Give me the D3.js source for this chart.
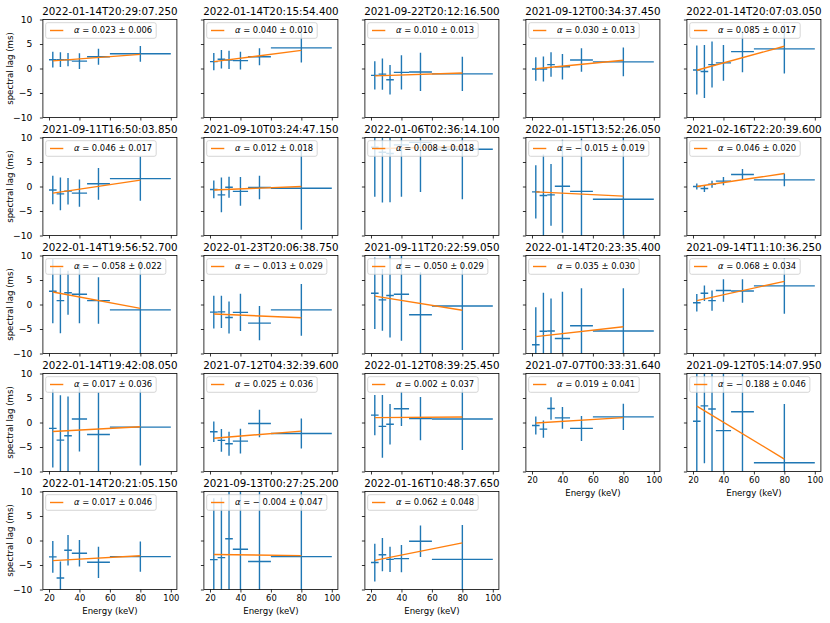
<!DOCTYPE html>
<html>
<head>
<meta charset="utf-8">
<script src="https://cdn.jsdelivr.net/npm/d3@7"></script>
<style>
  html, body { margin: 0; padding: 0; background: #fff; }
  svg { display: block; font-family: "DejaVu Sans", sans-serif; }
</style>
</head>
<body>
<svg id="chart" width="830" height="623"></svg>
<script>
// ---------------- DATA ----------------
const titles = [
  "2022-01-14T20:29:07.250", "2022-01-14T20:15:54.400", "2021-09-22T20:12:16.500", "2021-09-12T00:34:37.450", "2022-01-14T20:07:03.050",
  "2021-09-11T16:50:03.850", "2021-09-10T03:24:47.150", "2022-01-06T02:36:14.100", "2022-01-15T13:52:26.050", "2021-02-16T22:20:39.600",
  "2022-01-14T19:56:52.700", "2022-01-23T20:06:38.750", "2021-09-11T20:22:59.050", "2022-01-14T20:23:35.400", "2021-09-14T11:10:36.250",
  "2022-01-14T19:42:08.050", "2021-07-12T04:32:39.600", "2022-01-12T08:39:25.450", "2021-07-07T00:33:31.640", "2021-09-12T05:14:07.950",
  "2022-01-14T20:21:05.150", "2021-09-13T00:27:25.200", "2022-01-16T10:48:37.650"
];
const energyCenters = [22.5, 27.5, 32.5, 40, 52.5, 80];
const energyHalfWidths = [2.5, 2.5, 2.5, 5, 7.5, 20];
const alphas    = [0.023, 0.040, 0.010, 0.030, 0.085, 0.046, 0.012, 0.008, -0.015, 0.046, -0.058, -0.013, -0.050, 0.035, 0.068, 0.017, 0.025, 0.002, 0.019, -0.188, 0.017, -0.004, 0.062];
const alphaErrs = [0.006, 0.010, 0.013, 0.013, 0.017, 0.017, 0.018, 0.018, 0.019, 0.020, 0.022, 0.029, 0.029, 0.030, 0.034, 0.036, 0.036, 0.037, 0.041, 0.046, 0.046, 0.047, 0.048];
// fitted lag at the first energy centre (22.5 keV)
const fitStart  = [1.55, 1.4, -1.5, -0.05, -0.35, -1.35, -0.7, 7.7, -1.1, 0.0, 2.55, -1.95, 1.7, -6.55, 0.8, -1.85, -3.2, 1.0, -0.1, 3.35, -4.1, -2.85, -4.05];
const lags = [
  [1.8, 1.8, 1.8, 1.5, 2.4, 3.0],
  [1.4, 1.9, 1.75, 1.6, 2.4, 4.2],
  [-1.4, -1.15, -2.3, -0.8, -0.7, -1.1],
  [-0.1, -0.1, 0.8, 0.35, 1.75, 1.35],
  [-0.3, -0.6, 0.8, 1.15, 3.45, 4.0],
  [-0.7, -1.5, -0.95, -1.35, 0.55, 1.6],
  [-0.6, -1.7, -0.15, -1.0, -0.2, -0.35],
  [8.0, 7.0, 6.75, 8.5, 9.0, 7.6],
  [-1.1, -1.85, -1.7, 0.05, -1.0, -2.6],
  [0.0, -0.4, 0.45, 1.1, 2.45, 1.35],
  [2.7, 0.8, 2.4, 2.1, 0.8, -1.1],
  [-1.55, -1.5, -2.65, -1.6, -3.8, -1.1],
  [2.3, 0.95, 1.85, 2.1, -2.1, -0.3],
  [-8.2, -5.45, -5.4, -6.95, -4.35, -5.4],
  [0.35, 2.3, 0.8, 2.85, 2.75, 3.8],
  [-1.2, -3.6, -2.7, 0.7, -2.45, -0.95],
  [-1.9, -3.65, -4.35, -3.8, -0.2, -2.25],
  [1.5, -0.8, -0.35, 2.8, 0.8, 0.7],
  [-0.6, -1.35, 2.85, 0.95, -1.2, 1.15],
  [0.25, 3.4, 2.75, -1.65, 2.2, -8.2],
  [-3.35, -7.65, -2.0, -2.6, -4.45, -3.3],
  [-3.9, -3.5, 0.35, -1.8, -4.3, -3.3],
  [-4.5, -2.9, -3.85, -3.7, -0.15, -3.85]
];
const lagErrs = [
  [1.6, 1.5, 1.35, 1.6, 1.65, 1.6],
  [1.75, 1.9, 1.85, 1.8, 1.75, 3.0],
  [2.9, 3.2, 3.0, 3.5, 3.9, 3.5],
  [2.4, 2.55, 2.5, 2.6, 2.4, 2.95],
  [5.0, 5.4, 4.7, 3.65, 4.2, 5.0],
  [2.9, 3.35, 2.7, 2.8, 3.25, 4.5],
  [1.8, 3.55, 2.15, 2.95, 2.4, 8.5],
  [10.1, 10.25, 9.95, 10.6, 10.1, 10.2],
  [5.45, 8.4, 6.3, 9.5, 10.8, 13.0],
  [0.6, 0.7, 0.7, 0.85, 1.1, 1.3],
  [6.55, 6.65, 4.5, 5.95, 4.75, 10.1],
  [3.35, 3.3, 3.25, 3.8, 3.5, 5.3],
  [7.3, 6.3, 8.6, 9.5, 8.7, 9.0],
  [7.65, 7.85, 6.6, 9.55, 7.65, 8.7],
  [1.8, 1.6, 2.05, 2.3, 2.4, 5.7],
  [8.0, 9.15, 8.0, 6.6, 8.55, 7.8],
  [2.1, 2.3, 2.45, 2.55, 2.8, 3.05],
  [4.1, 6.4, 4.15, 3.5, 4.4, 6.3],
  [1.85, 1.75, 2.3, 2.2, 2.55, 2.7],
  [11, 11.7, 13, 12, 12.5, 12],
  [3.25, 3.35, 3.1, 2.7, 3.2, 3.1],
  [12.5, 12.3, 12, 12, 15, 14],
  [3.85, 3.4, 2.6, 2.8, 3.2, 7.0]
];
const xTicks = [20, 40, 60, 80, 100];
const yTicks = [-10, -5, 0, 5, 10];
const xDomain = [16, 104];
const yDomain = [-10, 10];

// ---------------- LAYOUT ----------------
const colLefts = [42.9, 203.9, 364.9, 525.9, 686.9];
const rowTops = [19.5, 137.5, 255.5, 373.5, 491.5];
const pw = 134, ph = 98;
const nCols = 5;
const BLUE = "#1f77b4", ORANGE = "#ff7f0e";
const fmt = d3.format(".3f");

const svg = d3.select("#chart");
const n = titles.length;
// bottom-most panel in each column gets x labels
const lastInCol = {};
for (let i = 0; i < n; i++) lastInCol[i % nCols] = i;

for (let i = 0; i < n; i++) {
  const col = i % nCols, row = Math.floor(i / nCols);
  const left = colLefts[col], top = rowTops[row];
  const x = d3.scaleLinear().domain(xDomain).range([left, left + pw]);
  const y = d3.scaleLinear().domain(yDomain).range([top + ph, top]);
  const g = svg.append("g");

  const clipId = "clip" + i;
  svg.append("clipPath").attr("id", clipId)
    .append("rect").attr("x", left).attr("y", top).attr("width", pw).attr("height", ph);

  const plot = g.append("g").attr("clip-path", `url(#${clipId})`);
  const pts = energyCenters.map((e, k) => ({e, hw: energyHalfWidths[k], v: lags[i][k], err: lagErrs[i][k]}));

  // error bars
  plot.selectAll("line.v").data(pts).enter().append("line")
    .attr("x1", d => x(d.e)).attr("x2", d => x(d.e))
    .attr("y1", d => y(d.v - d.err)).attr("y2", d => y(d.v + d.err))
    .attr("stroke", BLUE).attr("stroke-width", 1.4);
  plot.selectAll("line.h").data(pts).enter().append("line")
    .attr("x1", d => x(d.e - d.hw)).attr("x2", d => x(d.e + d.hw))
    .attr("y1", d => y(d.v)).attr("y2", d => y(d.v))
    .attr("stroke", BLUE).attr("stroke-width", 1.4);

  // fit line
  const e0 = energyCenters[0], e1 = energyCenters[energyCenters.length - 1];
  const fitPts = [e0, e1].map(e => [e, fitStart[i] + alphas[i] * (e - e0)]);
  plot.append("path")
    .attr("d", d3.line().x(d => x(d[0])).y(d => y(d[1]))(fitPts))
    .attr("fill", "none").attr("stroke", ORANGE).attr("stroke-width", 1.4);

  // axes
  const showX = lastInCol[col] === i;
  const xAxis = d3.axisBottom(x).tickValues(xTicks).tickSize(3).tickPadding(2.5)
    .tickFormat(showX ? d3.format("d") : () => "");
  const gx = g.append("g").attr("transform", `translate(0,${top + ph})`).call(xAxis);
  const yAxis = d3.axisLeft(y).tickValues(yTicks).tickSize(3).tickPadding(7.5)
    .tickFormat(col === 0 ? (d => d < 0 ? "\u2212" + Math.abs(d) : String(d)) : () => "");
  const gy = g.append("g").attr("transform", `translate(${left},0)`).call(yAxis);
  [gx, gy].forEach(a => {
    a.select(".domain").remove();
    a.selectAll(".tick line").attr("stroke", "#000").attr("stroke-width", 0.8);
    a.selectAll(".tick text").attr("fill", "#000").style("font-size", "8.4px").style("font-family", "DejaVu Sans");
  });
  gy.selectAll(".tick text").style("font-size", "9.2px");

  // frame
  g.append("rect").attr("x", left).attr("y", top).attr("width", pw).attr("height", ph)
    .attr("fill", "none").attr("stroke", "#000").attr("stroke-width", 0.8);

  // title
  g.append("text").attr("x", left + pw / 2).attr("y", top - 4.8)
    .attr("text-anchor", "middle").style("font-size", "10.3px").attr("fill", "#000")
    .text(titles[i]);

  // legend
  const lg = g.append("g");
  const box = lg.append("rect").attr("x", left + 2.8).attr("y", top + 3.2)
    .attr("height", 15.6).attr("rx", 2)
    .attr("fill", "#fff").attr("fill-opacity", 0.8).attr("stroke", "#cccccc").attr("stroke-width", 0.8);
  lg.append("line").attr("x1", left + 7.1).attr("x2", left + 20.4)
    .attr("y1", top + 11).attr("y2", top + 11)
    .attr("stroke", ORANGE).attr("stroke-width", 1.4);
  const a = alphas[i];
  const t = lg.append("text").attr("x", left + 31.1).attr("y", top + 11).attr("dy", "0.35em")
    .style("font-size", "8.4px").attr("fill", "#000");
  t.append("tspan").style("font-style", "italic").text("\u03b1");
  t.append("tspan").text(" = " + (a < 0 ? "\u2212 " : "") + fmt(Math.abs(a)) + " \u00b1 " + fmt(alphaErrs[i]));
  const tw = t.node().getComputedTextLength();
  box.attr("width", 31.1 + tw + 4 - 2.8);

  // labels
  if (col === 0) {
    g.append("text").attr("transform", `translate(12.5,${top + ph / 2}) rotate(-90)`)
      .attr("text-anchor", "middle").style("font-size", "8.6px").attr("fill", "#000")
      .text("spectral lag (ms)");
  }
  if (showX) {
    g.append("text").attr("x", left + pw / 2).attr("y", top + ph + 24.5)
      .attr("text-anchor", "middle").style("font-size", "8.6px").attr("fill", "#000")
      .text("Energy (keV)");
  }
}
</script>
</body>
</html>
